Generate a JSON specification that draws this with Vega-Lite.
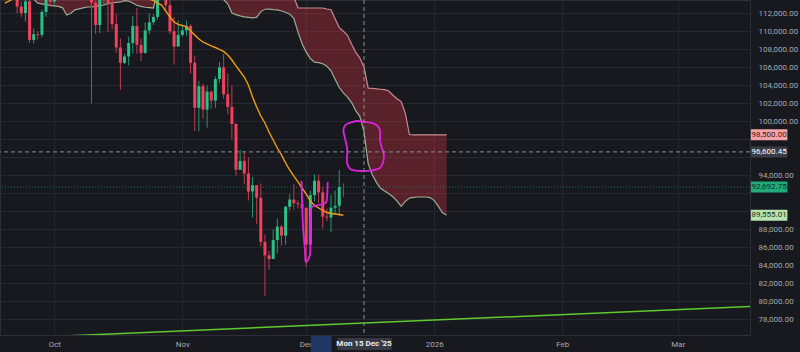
{
"$schema": "https://vega.github.io/schema/vega-lite/v6.json",
"width": 750, "height": 335,
"autosize": {"type": "none"},
"padding": {"left": 0, "top": 0, "right": 50, "bottom": 17},
"background": "#18191e",
"config": {
  "view": {"stroke": "#2c2f38", "strokeWidth": 1},
  "axis": {"domain": false, "ticks": false, "gridColor": "#25282f", "gridWidth": 1, "labelFont": "Roboto", "labelFontSize": 8, "labelColor": "#a6a9b1", "labelFlush": false, "labelOverlap": false},
  "axisY": {"tickCount": 18},
  "text": {"font": "Roboto"}
},
"datasets": {
  "candles": [
    {"date":"2025-09-19","open":117140,"high":117500,"low":115100,"close":115700},
    {"date":"2025-09-20","open":115700,"high":116200,"low":115500,"close":115720},
    {"date":"2025-09-21","open":115720,"high":115900,"low":115200,"close":115300},
    {"date":"2025-09-22","open":115300,"high":115400,"low":112000,"close":112750},
    {"date":"2025-09-23","open":112750,"high":113300,"low":111600,"close":112020},
    {"date":"2025-09-24","open":112020,"high":113950,"low":111100,"close":113330},
    {"date":"2025-09-25","open":113330,"high":113500,"low":108700,"close":109050},
    {"date":"2025-09-26","open":109050,"high":110300,"low":108650,"close":109680},
    {"date":"2025-09-27","open":109680,"high":110000,"low":109100,"close":109600},
    {"date":"2025-09-28","open":109600,"high":112400,"low":109300,"close":112150},
    {"date":"2025-09-29","open":112150,"high":114450,"low":111600,"close":114350},
    {"date":"2025-09-30","open":114350,"high":114800,"low":112700,"close":113300},
    {"date":"2025-10-01","open":113300,"high":118600,"low":113000,"close":118600},
    {"date":"2025-10-02","open":118600,"high":121000,"low":118300,"close":120600},
    {"date":"2025-10-03","open":120600,"high":123900,"low":119300,"close":122300},
    {"date":"2025-10-04","open":122300,"high":122800,"low":121600,"close":122400},
    {"date":"2025-10-05","open":122400,"high":125700,"low":122200,"close":123500},
    {"date":"2025-10-06","open":123500,"high":126200,"low":123100,"close":124800},
    {"date":"2025-10-07","open":124800,"high":125100,"low":120600,"close":121400},
    {"date":"2025-10-08","open":121400,"high":124100,"low":121100,"close":123300},
    {"date":"2025-10-09","open":123300,"high":123700,"low":119700,"close":121700},
    {"date":"2025-10-10","open":121700,"high":122500,"low":102000,"close":113200},
    {"date":"2025-10-11","open":113200,"high":113400,"low":109700,"close":110700},
    {"date":"2025-10-12","open":110700,"high":115700,"low":109800,"close":115200},
    {"date":"2025-10-13","open":115200,"high":116000,"low":113000,"close":115300},
    {"date":"2025-10-14","open":115300,"high":115500,"low":109900,"close":113100},
    {"date":"2025-10-15","open":113100,"high":113600,"low":110200,"close":110800},
    {"date":"2025-10-16","open":110800,"high":111900,"low":107600,"close":108200},
    {"date":"2025-10-17","open":108200,"high":109200,"low":103500,"close":106500},
    {"date":"2025-10-18","open":106500,"high":107500,"low":106400,"close":107200},
    {"date":"2025-10-19","open":107200,"high":109400,"low":106200,"close":108700},
    {"date":"2025-10-20","open":108700,"high":111700,"low":107500,"close":110600},
    {"date":"2025-10-21","open":110600,"high":112600,"low":107500,"close":108500},
    {"date":"2025-10-22","open":108500,"high":109200,"low":106700,"close":107600},
    {"date":"2025-10-23","open":107600,"high":111000,"low":107500,"close":110100},
    {"date":"2025-10-24","open":110100,"high":112000,"low":109700,"close":111000},
    {"date":"2025-10-25","open":111000,"high":111900,"low":110700,"close":111600},
    {"date":"2025-10-26","open":111600,"high":114900,"low":111300,"close":114600},
    {"date":"2025-10-27","open":114600,"high":116400,"low":113900,"close":114100},
    {"date":"2025-10-28","open":114100,"high":116100,"low":112300,"close":112900},
    {"date":"2025-10-29","open":112900,"high":113600,"low":109700,"close":110000},
    {"date":"2025-10-30","open":110000,"high":111600,"low":106300,"close":108300},
    {"date":"2025-10-31","open":108300,"high":111200,"low":108300,"close":109600},
    {"date":"2025-11-01","open":109600,"high":110600,"low":109400,"close":110100},
    {"date":"2025-11-02","open":110100,"high":111200,"low":109500,"close":110600},
    {"date":"2025-11-03","open":110600,"high":110800,"low":105300,"close":106500},
    {"date":"2025-11-04","open":106500,"high":107300,"low":98900,"close":101500},
    {"date":"2025-11-05","open":101500,"high":104500,"low":98900,"close":103900},
    {"date":"2025-11-06","open":103900,"high":104200,"low":100300,"close":101300},
    {"date":"2025-11-07","open":101300,"high":104000,"low":99300,"close":103300},
    {"date":"2025-11-08","open":103300,"high":103400,"low":101400,"close":102300},
    {"date":"2025-11-09","open":102300,"high":105000,"low":101500,"close":104700},
    {"date":"2025-11-10","open":104700,"high":106600,"low":104300,"close":106000},
    {"date":"2025-11-11","open":106000,"high":107500,"low":102500,"close":103000},
    {"date":"2025-11-12","open":103000,"high":105300,"low":100800,"close":101600},
    {"date":"2025-11-13","open":101600,"high":104000,"low":98000,"close":99700},
    {"date":"2025-11-14","open":99700,"high":99800,"low":94000,"close":94600},
    {"date":"2025-11-15","open":94600,"high":96800,"low":94600,"close":95600},
    {"date":"2025-11-16","open":95600,"high":96600,"low":93000,"close":94200},
    {"date":"2025-11-17","open":94200,"high":96000,"low":91200,"close":92200},
    {"date":"2025-11-18","open":92200,"high":93800,"low":89300,"close":92900},
    {"date":"2025-11-19","open":92900,"high":92900,"low":88600,"close":91500},
    {"date":"2025-11-20","open":91500,"high":93100,"low":86100,"close":86600},
    {"date":"2025-11-21","open":86600,"high":87400,"low":80600,"close":85100},
    {"date":"2025-11-22","open":85100,"high":85600,"low":83500,"close":84700},
    {"date":"2025-11-23","open":84700,"high":88000,"low":84700,"close":86800},
    {"date":"2025-11-24","open":86800,"high":89200,"low":85300,"close":88300},
    {"date":"2025-11-25","open":88300,"high":88500,"low":86200,"close":87300},
    {"date":"2025-11-26","open":87300,"high":90600,"low":86300,"close":90500},
    {"date":"2025-11-27","open":90500,"high":91900,"low":90100,"close":91300},
    {"date":"2025-11-28","open":91300,"high":93000,"low":90200,"close":90900},
    {"date":"2025-11-29","open":90900,"high":91200,"low":90300,"close":90800},
    {"date":"2025-11-30","open":90800,"high":92000,"low":90300,"close":90400},
    {"date":"2025-12-01","open":90400,"high":90400,"low":83800,"close":86300},
    {"date":"2025-12-02","open":86300,"high":92300,"low":86200,"close":91800},
    {"date":"2025-12-03","open":91800,"high":94100,"low":91100,"close":93400},
    {"date":"2025-12-04","open":93400,"high":94100,"low":90900,"close":92100},
    {"date":"2025-12-05","open":92100,"high":92700,"low":88100,"close":89400},
    {"date":"2025-12-06","open":89400,"high":90300,"low":88900,"close":89300},
    {"date":"2025-12-07","open":89300,"high":91800,"low":87700,"close":90400},
    {"date":"2025-12-08","open":90400,"high":92300,"low":89600,"close":90600},
    {"date":"2025-12-09","open":90600,"high":94600,"low":89500,"close":92700},
    {"date":"2025-12-10","open":92700,"high":93100,"low":91600,"close":92693}
  ],
  "ma": [
    {"date":"2025-09-19","value":113140},{"date":"2025-09-20","value":113360},{"date":"2025-09-21","value":113600},
    {"date":"2025-09-22","value":113800},{"date":"2025-09-24","value":114000},{"date":"2025-09-27","value":113900},
    {"date":"2025-09-30","value":114000},{"date":"2025-10-03","value":115200},{"date":"2025-10-06","value":116500},
    {"date":"2025-10-09","value":117300},{"date":"2025-10-12","value":116500},{"date":"2025-10-15","value":115900},
    {"date":"2025-10-18","value":114700},{"date":"2025-10-21","value":114100},{"date":"2025-10-23","value":113811},
    {"date":"2025-10-24","value":113590},{"date":"2025-10-25","value":113420},{"date":"2025-10-26","value":113140},
    {"date":"2025-10-27","value":112920},{"date":"2025-10-28","value":112250},{"date":"2025-10-29","value":111590},
    {"date":"2025-10-30","value":111030},{"date":"2025-10-31","value":110760},{"date":"2025-11-01","value":110640},
    {"date":"2025-11-02","value":110530},{"date":"2025-11-03","value":110030},{"date":"2025-11-04","value":109590},
    {"date":"2025-11-05","value":109140},{"date":"2025-11-06","value":108810},{"date":"2025-11-07","value":108590},
    {"date":"2025-11-08","value":108370},{"date":"2025-11-09","value":108200},{"date":"2025-11-10","value":107980},
    {"date":"2025-11-11","value":107760},{"date":"2025-11-12","value":107370},{"date":"2025-11-13","value":106810},
    {"date":"2025-11-14","value":106150},{"date":"2025-11-15","value":105530},{"date":"2025-11-16","value":104920},
    {"date":"2025-11-17","value":104030},{"date":"2025-11-18","value":102700},{"date":"2025-11-19","value":101590},
    {"date":"2025-11-20","value":100590},{"date":"2025-11-21","value":99810},{"date":"2025-11-22","value":98810},
    {"date":"2025-11-23","value":97920},{"date":"2025-11-24","value":97030},{"date":"2025-11-25","value":96260},
    {"date":"2025-11-26","value":95370},{"date":"2025-11-27","value":94590},{"date":"2025-11-28","value":93920},
    {"date":"2025-11-29","value":93260},{"date":"2025-11-30","value":92590},{"date":"2025-12-01","value":91920},
    {"date":"2025-12-02","value":91150},{"date":"2025-12-03","value":90650},{"date":"2025-12-04","value":90370},
    {"date":"2025-12-05","value":90090},{"date":"2025-12-06","value":89870},{"date":"2025-12-07","value":89760},
    {"date":"2025-12-08","value":89700},{"date":"2025-12-09","value":89650},{"date":"2025-12-10","value":89555}
  ],
  "cloud": [
    {"date":"2025-09-19","upper":118000,"lower":116000},{"date":"2025-09-20","upper":118000,"lower":115500},
    {"date":"2025-09-21","upper":118000,"lower":115120},{"date":"2025-09-22","upper":118000,"lower":114820},
    {"date":"2025-09-23","upper":118000,"lower":114520},{"date":"2025-09-24","upper":118000,"lower":114220},
    {"date":"2025-09-25","upper":118000,"lower":113950},{"date":"2025-09-26","upper":118000,"lower":113580},
    {"date":"2025-09-27","upper":118000,"lower":113130},{"date":"2025-09-28","upper":118000,"lower":113050},
    {"date":"2025-09-29","upper":118000,"lower":112960},{"date":"2025-09-30","upper":118000,"lower":112880},
    {"date":"2025-10-01","upper":118000,"lower":112820},{"date":"2025-10-02","upper":118000,"lower":112760},
    {"date":"2025-10-03","upper":118000,"lower":112610},{"date":"2025-10-04","upper":118000,"lower":111810},
    {"date":"2025-10-05","upper":118000,"lower":112000},{"date":"2025-10-06","upper":118000,"lower":112390},
    {"date":"2025-10-07","upper":118000,"lower":112500},{"date":"2025-10-08","upper":118000,"lower":112600},
    {"date":"2025-10-09","upper":118000,"lower":112700},{"date":"2025-10-10","upper":118000,"lower":112700},
    {"date":"2025-10-11","upper":118000,"lower":112770},{"date":"2025-10-12","upper":118000,"lower":112850},
    {"date":"2025-10-13","upper":118000,"lower":112920},{"date":"2025-10-14","upper":118000,"lower":113070},
    {"date":"2025-10-15","upper":118000,"lower":113170},{"date":"2025-10-16","upper":118000,"lower":113210},
    {"date":"2025-10-17","upper":118000,"lower":113260},{"date":"2025-10-18","upper":118000,"lower":113410},
    {"date":"2025-10-19","upper":118000,"lower":113360},{"date":"2025-10-20","upper":118000,"lower":113150},
    {"date":"2025-10-21","upper":118000,"lower":112890},{"date":"2025-10-22","upper":118000,"lower":112770},
    {"date":"2025-10-23","upper":118000,"lower":112670},{"date":"2025-10-24","upper":118000,"lower":112630},
    {"date":"2025-10-25","upper":118000,"lower":112590},{"date":"2025-10-26","upper":118000,"lower":114600},
    {"date":"2025-10-28","upper":118500,"lower":115500},{"date":"2025-11-02","upper":118500,"lower":115800},
    {"date":"2025-11-06","upper":118500,"lower":115400},{"date":"2025-11-10","upper":118500,"lower":115000},
    {"date":"2025-11-11","upper":118000,"lower":113520},{"date":"2025-11-12","upper":118000,"lower":113060},
    {"date":"2025-11-13","upper":118000,"lower":112030},{"date":"2025-11-14","upper":118000,"lower":111860},
    {"date":"2025-11-15","upper":118000,"lower":111720},{"date":"2025-11-16","upper":118000,"lower":111600},
    {"date":"2025-11-17","upper":118000,"lower":111550},{"date":"2025-11-18","upper":118000,"lower":111490},
    {"date":"2025-11-19","upper":118000,"lower":111550},{"date":"2025-11-20","upper":118000,"lower":112190},
    {"date":"2025-11-21","upper":118000,"lower":112450},{"date":"2025-11-22","upper":118000,"lower":112460},
    {"date":"2025-11-23","upper":118000,"lower":112410},{"date":"2025-11-24","upper":118000,"lower":112380},
    {"date":"2025-11-25","upper":118000,"lower":112260},{"date":"2025-11-26","upper":118000,"lower":112120},
    {"date":"2025-11-27","upper":118000,"lower":111900},{"date":"2025-11-28","upper":113800,"lower":111430},
    {"date":"2025-11-29","upper":112610,"lower":109930},{"date":"2025-11-30","upper":112590,"lower":108610},
    {"date":"2025-12-01","upper":112590,"lower":107690},{"date":"2025-12-02","upper":112590,"lower":106980},
    {"date":"2025-12-03","upper":112590,"lower":106580},{"date":"2025-12-04","upper":112590,"lower":106510},
    {"date":"2025-12-05","upper":112590,"lower":106390},{"date":"2025-12-06","upper":112480,"lower":106120},
    {"date":"2025-12-07","upper":112400,"lower":105610},{"date":"2025-12-08","upper":111400,"lower":104680},
    {"date":"2025-12-09","upper":110410,"lower":103750},{"date":"2025-12-10","upper":110010,"lower":103150},
    {"date":"2025-12-11","upper":109550,"lower":102690},{"date":"2025-12-12","upper":108560,"lower":102080},
    {"date":"2025-12-13","upper":107650,"lower":101180},{"date":"2025-12-14","upper":107030,"lower":100520},
    {"date":"2025-12-15","upper":106030,"lower":98830},{"date":"2025-12-16","upper":103690,"lower":95330},
    {"date":"2025-12-17","upper":103650,"lower":94060},{"date":"2025-12-18","upper":103600,"lower":93220},
    {"date":"2025-12-19","upper":103560,"lower":92550},{"date":"2025-12-20","upper":103510,"lower":92260},
    {"date":"2025-12-21","upper":103370,"lower":91960},{"date":"2025-12-22","upper":102900,"lower":91620},
    {"date":"2025-12-23","upper":102510,"lower":91130},{"date":"2025-12-24","upper":102190,"lower":90550},
    {"date":"2025-12-25","upper":100870,"lower":91100},{"date":"2025-12-26","upper":98530,"lower":91470},
    {"date":"2025-12-27","upper":98500,"lower":91550},{"date":"2025-12-28","upper":98500,"lower":91590},
    {"date":"2025-12-29","upper":98500,"lower":91590},{"date":"2025-12-30","upper":98500,"lower":91590},
    {"date":"2025-12-31","upper":98500,"lower":91520},{"date":"2026-01-01","upper":98500,"lower":91190},
    {"date":"2026-01-02","upper":98500,"lower":90550},{"date":"2026-01-03","upper":98500,"lower":89830},
    {"date":"2026-01-04","upper":98500,"lower":89590}
  ],
  "drawings": [
    {"shape":"loop","order":1,"date":"2025-12-11T16:00:00Z","price":99845},
    {"shape":"loop","order":2,"date":"2025-12-13T09:00:00Z","price":100034},
    {"shape":"loop","order":3,"date":"2025-12-14T19:00:00Z","price":99956},
    {"shape":"loop","order":4,"date":"2025-12-16T11:00:00Z","price":99845},
    {"shape":"loop","order":5,"date":"2025-12-18T01:30:00Z","price":99589},
    {"shape":"loop","order":6,"date":"2025-12-18T20:00:00Z","price":99034},
    {"shape":"loop","order":7,"date":"2025-12-18T21:00:00Z","price":97922},
    {"shape":"loop","order":8,"date":"2025-12-19T06:00:00Z","price":97178},
    {"shape":"loop","order":9,"date":"2025-12-19T19:30:00Z","price":96256},
    {"shape":"loop","order":10,"date":"2025-12-19T13:40:00Z","price":95367},
    {"shape":"loop","order":11,"date":"2025-12-18T20:00:00Z","price":94811},
    {"shape":"loop","order":12,"date":"2025-12-16T11:00:00Z","price":94511},
    {"shape":"loop","order":13,"date":"2025-12-14T02:20:00Z","price":94478},
    {"shape":"loop","order":14,"date":"2025-12-11T16:00:00Z","price":94700},
    {"shape":"loop","order":15,"date":"2025-12-10T21:30:00Z","price":95367},
    {"shape":"loop","order":16,"date":"2025-12-10T23:00:00Z","price":96811},
    {"shape":"loop","order":17,"date":"2025-12-10T11:40:00Z","price":97922},
    {"shape":"loop","order":18,"date":"2025-12-10T00:15:00Z","price":99034},
    {"shape":"loop","order":19,"date":"2025-12-10T11:40:00Z","price":99589},
    {"shape":"loop","order":20,"date":"2025-12-11T16:00:00Z","price":99845},
    {"shape":"hook","order":1,"date":"2025-11-29T20:40:00Z","price":93367},
    {"shape":"hook","order":2,"date":"2025-11-29T23:30:00Z","price":91256},
    {"shape":"hook","order":3,"date":"2025-11-30T05:00:00Z","price":88478},
    {"shape":"hook","order":4,"date":"2025-11-30T16:30:00Z","price":85700},
    {"shape":"hook","order":5,"date":"2025-11-30T22:20:00Z","price":84367},
    {"shape":"hook","order":6,"date":"2025-12-01T09:50:00Z","price":84589},
    {"shape":"hook","order":7,"date":"2025-12-01T21:20:00Z","price":85145},
    {"shape":"hook","order":8,"date":"2025-12-02T00:00:00Z","price":86811},
    {"shape":"hook","order":9,"date":"2025-12-02T01:00:00Z","price":89589},
    {"shape":"hook","order":10,"date":"2025-12-02T09:00:00Z","price":90478},
    {"shape":"hook","order":11,"date":"2025-12-04T01:00:00Z","price":90700},
    {"shape":"hook","order":12,"date":"2025-12-05T17:00:00Z","price":90922},
    {"shape":"hook","order":13,"date":"2025-12-06T01:40:00Z","price":91811},
    {"shape":"hook","order":14,"date":"2025-12-06T04:30:00Z","price":93256}
  ],
  "trend": [
    {"date":"2025-10-01","price":76100},
    {"date":"2026-03-20","price":79450}
  ],
  "levels": [
    {"price":98500,"label":"98,500.00","kind":"cloud"},
    {"price":96600.45,"label":"96,600.45","kind":"cross"},
    {"price":92692.75,"label":"92,692.75","kind":"last"},
    {"price":89555.01,"label":"89,555.01","kind":"ema"}
  ]
},
"layer": [
  {
    "data": {"name": "cloud"},
    "mark": {"type": "area", "color": "#f23645", "opacity": 0.3, "clip": true},
    "encoding": {
      "x": {"field": "date", "type": "temporal", "title": null,
            "scale": {"type": "utc", "nice": false, "domain": [{"year":2025,"month":9,"date":19,"hours":1,"minutes":18,"utc":true},{"year":2026,"month":3,"date":17,"hours":6,"minutes":14,"utc":true}]},
            "axis": {"title": null, "orient": "bottom", "labelOverlap": false, "values": [{"year":2025,"month":10,"date":1,"utc":true},{"year":2025,"month":11,"date":1,"utc":true},{"year":2025,"month":12,"date":1,"utc":true},{"year":2026,"month":1,"date":1,"utc":true},{"year":2026,"month":2,"date":1,"utc":true},{"year":2026,"month":3,"date":1,"utc":true}],
                     "labelExpr": "utcmonth(datum.value) == 0 ? utcFormat(datum.value, '%Y') : utcFormat(datum.value, '%b')",
                     "grid": true, "labelPadding": 5}},
      "y": {"field": "lower", "type": "quantitative", "title": null,
            "scale": {"domain": [76256, 113478], "nice": false, "zero": false},
            "axis": {"title": null, "orient": "right", "labelOverlap": false, "tickCount": 18, "values": [78000,80000,82000,84000,86000,88000,90000,92000,94000,96000,98000,100000,102000,104000,106000,108000,110000,112000],
                     "labelExpr": "indexof([90000, 92000, 96000, 98000], datum.value) >= 0 ? '' : format(datum.value, ',.2f')",
                     "grid": true, "labelPadding": 8}},
      "y2": {"field": "upper"}
    }
  },
  {
    "data": {"name": "cloud"},
    "mark": {"type": "line", "color": "#c98a8e", "strokeWidth": 1.2, "clip": true},
    "encoding": {
      "x": {"field": "date", "type": "temporal", "title": null},
      "y": {"field": "upper", "type": "quantitative", "title": null}
    }
  },
  {
    "data": {"name": "cloud"},
    "mark": {"type": "line", "color": "#9eac96", "strokeWidth": 1.2, "clip": true},
    "encoding": {
      "x": {"field": "date", "type": "temporal", "title": null},
      "y": {"field": "lower", "type": "quantitative", "title": null}
    }
  },
  {
    "data": {"values": [{"price": 92692.75}]},
    "mark": {"type": "rule", "color": "#1f8a66", "strokeWidth": 1, "strokeDash": [1, 2], "opacity": 0.8},
    "encoding": {"y": {"field": "price", "type": "quantitative", "title": null}}
  },
  {
    "data": {"name": "candles"},
    "mark": {"type": "rule", "strokeWidth": 1, "clip": true},
    "encoding": {
      "x": {"field": "date", "type": "temporal", "title": null},
      "y": {"field": "low", "type": "quantitative", "title": null},
      "y2": {"field": "high"},
      "color": {"condition": {"test": "datum.close >= datum.open", "value": "#1f9a6c"}, "value": "#c23a52"}
    }
  },
  {
    "data": {"name": "candles"},
    "mark": {"type": "bar", "size": 3, "clip": true},
    "encoding": {
      "x": {"field": "date", "type": "temporal", "title": null},
      "y": {"field": "open", "type": "quantitative", "title": null},
      "y2": {"field": "close"},
      "color": {"condition": {"test": "datum.close >= datum.open", "value": "#2cbf88"}, "value": "#f2415d"}
    }
  },
  {
    "data": {"name": "ma"},
    "mark": {"type": "line", "color": "#f39c12", "strokeWidth": 1.4, "clip": true},
    "encoding": {
      "x": {"field": "date", "type": "temporal", "title": null},
      "y": {"field": "value", "type": "quantitative", "title": null}
    }
  },
  {
    "data": {"name": "trend"},
    "mark": {"type": "line", "color": "#5ecb2d", "strokeWidth": 1.5, "clip": true},
    "encoding": {
      "x": {"field": "date", "type": "temporal", "title": null},
      "y": {"field": "price", "type": "quantitative", "title": null}
    }
  },
  {
    "data": {"name": "drawings"},
    "mark": {"type": "line", "color": "#e020e0", "strokeWidth": 1.8, "interpolate": "catmull-rom", "clip": true},
    "encoding": {
      "x": {"field": "date", "type": "temporal", "title": null},
      "y": {"field": "price", "type": "quantitative", "title": null},
      "detail": {"field": "shape"},
      "order": {"field": "order", "type": "quantitative"}
    }
  },
  {
    "data": {"values": [{"date": "2025-12-15"}]},
    "mark": {"type": "rule", "color": "#8d9098", "strokeWidth": 1, "strokeDash": [4, 3]},
    "encoding": {"x": {"field": "date", "type": "temporal", "title": null}}
  },
  {
    "data": {"values": [{"price": 96600.45}]},
    "mark": {"type": "rule", "color": "#8d9098", "strokeWidth": 1, "strokeDash": [4, 3]},
    "encoding": {"y": {"field": "price", "type": "quantitative", "title": null}}
  },
  {
    "data": {"values": [{"start": "2025-12-02T03:00:00Z", "end": "2025-12-07T03:20:00Z"}]},
    "mark": {"type": "rule", "color": "#1f3666", "strokeWidth": 16},
    "encoding": {
      "x": {"field": "start", "type": "temporal", "title": null},
      "x2": {"field": "end"},
      "y": {"datum": 75256, "type": "quantitative", "title": null}
    }
  },
  {
    "data": {"values": [{"date": "2025-12-15", "label": "Mon 15 Dec '25"}]},
    "mark": {"type": "rule", "color": "#363a45", "strokeWidth": 12},
    "encoding": {
      "x": {"datum": {"year":2025,"month":12,"date":8,"hours":13,"minutes":40,"utc":true}, "type": "temporal", "title": null},
      "x2": {"datum": {"year":2025,"month":12,"date":21,"hours":17,"utc":true}},
      "y": {"datum": 75256, "type": "quantitative", "title": null}
    }
  },
  {
    "data": {"values": [{"date": "2025-12-15", "label": "Mon 15 Dec '25"}]},
    "mark": {"type": "text", "color": "#eceef2", "fontSize": 8, "fontWeight": "bold", "align": "center", "baseline": "middle"},
    "encoding": {
      "x": {"field": "date", "type": "temporal", "title": null},
      "y": {"datum": 75256, "type": "quantitative", "title": null},
      "text": {"field": "label"}
    }
  },
  {
    "data": {"name": "levels"},
    "mark": {"type": "rule", "strokeWidth": 11},
    "encoding": {
      "x": {"datum": {"year":2026,"month":3,"date":18,"hours":16,"minutes":20,"utc":true}, "type": "temporal", "title": null},
      "x2": {"datum": {"year":2026,"month":3,"date":27,"hours":12,"minutes":30,"utc":true}},
      "y": {"field": "price", "type": "quantitative", "title": null},
      "stroke": {"field": "kind", "type": "nominal", "legend": null,
                 "scale": {"domain": ["cloud", "cross", "last", "ema"], "range": ["#f5a3a6", "#3a3d46", "#22a97b", "#b6e3b0"]}}
    }
  },
  {
    "data": {"name": "levels"},
    "mark": {"type": "text", "fontSize": 8, "align": "center", "baseline": "middle"},
    "encoding": {
      "x": {"datum": {"year":2026,"month":3,"date":23,"hours":2,"minutes":25,"utc":true}, "type": "temporal", "title": null},
      "y": {"field": "price", "type": "quantitative", "title": null},
      "text": {"field": "label"},
      "fill": {"field": "kind", "type": "nominal", "legend": null,
               "scale": {"domain": ["cloud", "cross", "last", "ema"], "range": ["#3b1416", "#ffffff", "#0c2a1f", "#1c2e1b"]}}
    }
  }
]
}
